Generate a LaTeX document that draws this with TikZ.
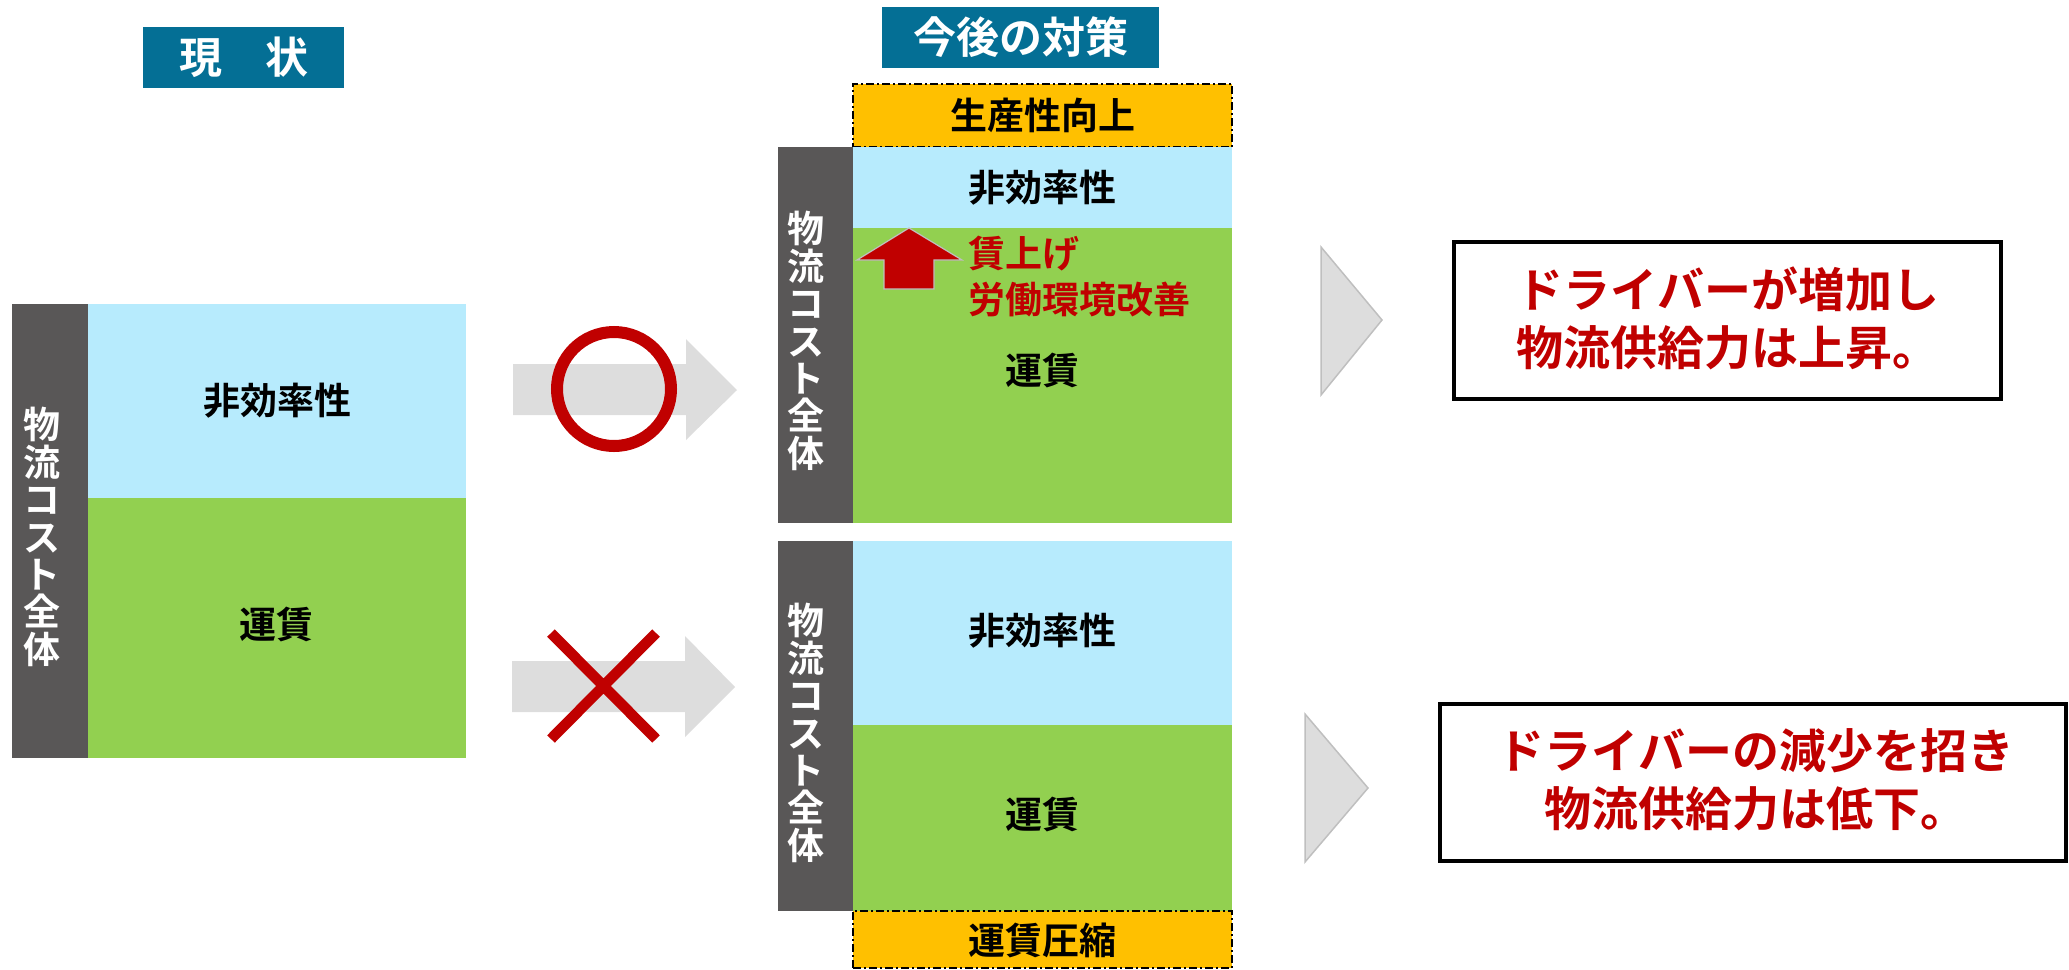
\documentclass[tikz,border=0pt]{standalone}
\usepackage{fontspec}
\setmainfont{Noto Sans CJK JP}[BoldFont={Noto Sans CJK JP Bold}]
\usetikzlibrary{fit}
\definecolor{ttlblue}{RGB}{4,111,149}
\definecolor{barg}{RGB}{89,87,87}
\definecolor{lblue}{RGB}{183,235,253}
\definecolor{lgreen}{RGB}{146,208,80}
\definecolor{orng}{RGB}{255,192,0}
\definecolor{dred}{RGB}{192,0,0}
\definecolor{agray}{RGB}{221,221,221}
\definecolor{ogray}{RGB}{191,191,191}
\begin{document}
\begin{tikzpicture}[x=0.5pt,y=-0.5pt,
  blk/.style={inner sep=0pt, outer sep=0pt},
  ttl/.style={blk, fill=ttlblue},
  ttltext/.style={inner sep=0pt, text=white, font=\bfseries\fontsize{21.5}{24}\selectfont},
  f37/.style={inner sep=0pt, font=\bfseries\fontsize{18.5}{22}\selectfont},
  bluebox/.style={blk, fill=lblue},
  greenbox/.style={blk, fill=lgreen},
  darkbar/.style={blk, fill=barg},
  vtext/.style={inner sep=0pt, align=center, text=white, font=\bfseries\fontsize{18.5}{18.7}\selectfont},
  orangebox/.style={blk, fill=orng, draw=black, line width=0.8pt, dash pattern=on 4pt off 1.5pt on 1pt off 1.5pt},
  bigarrow/.style={fill=agray},
  tri/.style={fill=agray, draw=ogray, line width=0.75pt},
  result/.style={blk, draw=black, line width=2pt},
  restext/.style={inner sep=0pt, text=dred, align=center, font=\bfseries\fontsize{23.5}{29}\selectfont},
  redmark/.style={draw=dred}
]
\useasboundingbox (0,0) rectangle (2069,970);

% titles
\node[ttl, fit={(143,27) (344,88)}] (t1) {};
\node[ttltext] (t1T) at (t1.center) {現　状};
\node[ttl, fit={(882,7) (1159,68)}] (t2) {};
\node[ttltext] (t2T) at (t2.center) {今後の対策};

% current state
\node[darkbar, fit={(12,304) (88,758)}] (lbar) {};
\node[vtext] (lbarT) at (42,537) {物\\流\\コ\\ス\\ト\\全\\体};
\node[bluebox, fit={(88,304) (466,498)}] (lineff) {};
\node[f37] (lineffT) at (lineff.center) {非効率性};
\node[greenbox, fit={(88,498) (466,758)}] (lfare) {};
\node[f37] (lfareT) at (276,624) {運賃};

% big gray arrows with marks
\path[bigarrow] (513,364) -- (686,364) -- (686,339) -- (737,390) -- (686,440) -- (686,415) -- (513,415) -- cycle;
\draw[redmark, line width=6pt] (614,389) circle [radius=57];
\path[bigarrow] (512,661) -- (685,661) -- (685,636) -- (735,687) -- (685,737) -- (685,712) -- (512,712) -- cycle;
\draw[redmark, line width=5.3pt] (551,633) -- (656,739) (656,633) -- (551,739);

% future: top case
\node[orangebox, fit={(853,84) (1232,147)}] (prod) {};
\node[f37] (prodT) at (prod.center) {生産性向上};
\node[darkbar, fit={(778,147) (853,523)}] (tbar) {};
\node[vtext] (tbarT) at (806,341) {物\\流\\コ\\ス\\ト\\全\\体};
\node[bluebox, fit={(853,147) (1232,228)}] (tineff) {};
\node[f37] (tineffT) at (tineff.center) {非効率性};
\node[greenbox, fit={(853,228) (1232,523)}] (tgreen) {};
\node[f37] (tfare) at (1042,370) {運賃};
\draw[fill=dred, draw=ogray, line width=0.6pt] (909,228) -- (962,260) -- (934,260) -- (934,289) -- (884,289) -- (884,260) -- (857,260) -- cycle;
\node[anchor=west, align=left, inner sep=0pt, text=dred, font=\bfseries\fontsize{18.5}{23}\selectfont] (wage) at (968,277) {賃上げ\\労働環境改善};

% future: bottom case
\node[darkbar, fit={(778,541) (853,911)}] (bbar) {};
\node[vtext] (bbarT) at (806,733) {物\\流\\コ\\ス\\ト\\全\\体};
\node[bluebox, fit={(853,541) (1232,725)}] (bineff) {};
\node[f37] (bineffT) at (1042,631) {非効率性};
\node[greenbox, fit={(853,725) (1232,911)}] (bfare) {};
\node[f37] (bfareT) at (1042,814) {運賃};
\node[orangebox, fit={(853,911) (1232,968)}] (cut) {};
\node[f37] (cutT) at (1042,940) {運賃圧縮};

% outcomes
\path[tri] (1321,247) -- (1382,320) -- (1321,395) -- cycle;
\path[tri] (1305,714) -- (1368,788) -- (1305,862) -- cycle;
\node[result, fit={(1454,242) (2001,399)}] (res1) {};
\node[restext] (res1T) at (1728,318) {ドライバーが増加し\\物流供給力は上昇。};
\node[result, fit={(1440,704) (2066,861)}] (res2) {};
\node[restext] (res2T) at (1756,780) {ドライバーの減少を招き\\物流供給力は低下。};
\end{tikzpicture}
\end{document}
